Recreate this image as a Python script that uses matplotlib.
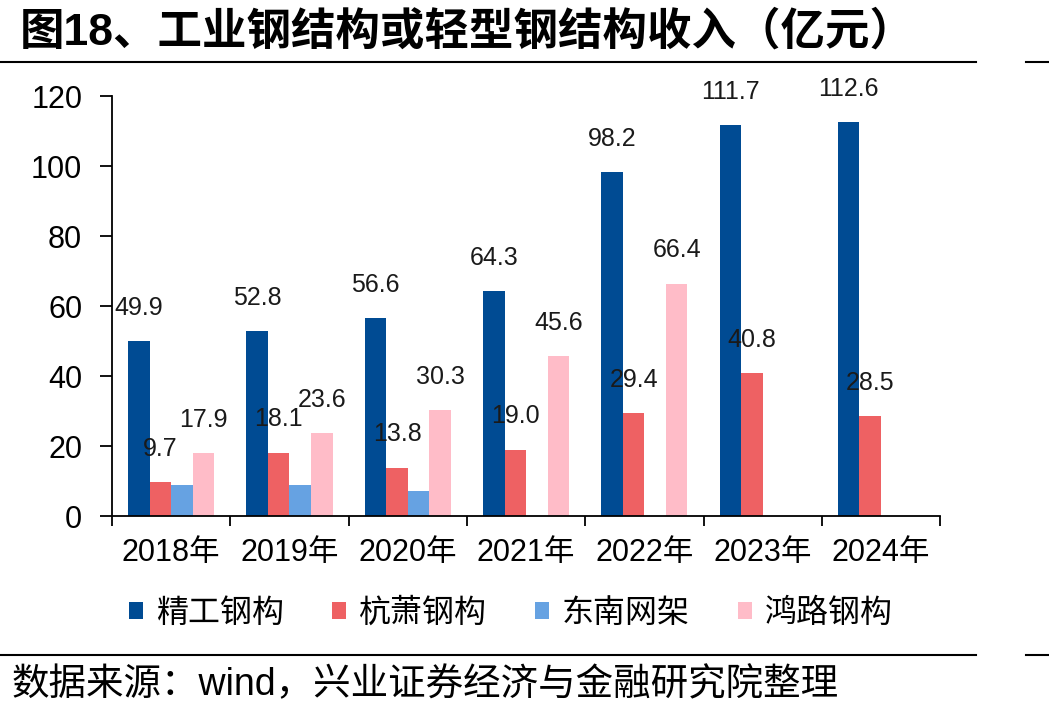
import matplotlib.pyplot as plt
import numpy as np

plt.rcParams["font.family"] = ["Liberation Sans", "Noto Sans CJK SC", "DejaVu Sans"]

years = ["2018年", "2019年", "2020年", "2021年", "2022年", "2023年", "2024年"]
series_names = ["精工钢构", "杭萧钢构", "东南网架", "鸿路钢构"]
jinggong = [49.9, 52.8, 56.6, 64.3, 98.2, 111.7, 112.6]
hangxiao = [9.7, 18.1, 13.8, 19.0, 29.4, 40.8, 28.5]
dongnan = [9.0, 8.8, 7.2, np.nan, np.nan, np.nan, np.nan]
honglu = [17.9, 23.6, 30.3, 45.6, 66.4, np.nan, np.nan]
colors = ["#004B93", "#EE6163", "#66A2E2", "#FFBCC8"]
show_labels = [True, True, False, True]

fig = plt.figure(figsize=(10.49, 7.15), dpi=100)
ax = fig.add_axes([0.1068, 0.2783, 0.7894, 0.5874])

x = np.arange(len(years))
w = 0.182
all_series = [jinggong, hangxiao, dongnan, honglu]
for i, (vals, name, c) in enumerate(zip(all_series, series_names, colors)):
    pos = x + (i - 1.5) * w
    ax.bar(pos, vals, width=w, color=c, label=name, zorder=2)
    if show_labels[i]:
        for px, v in zip(pos, vals):
            if np.isnan(v):
                continue
            ax.annotate(f"{v:.1f}", (px, v), xytext=(0, 19), textcoords="offset points",
                        ha="center", va="baseline", fontsize=18, color="#1a1a1a")

ax.set_xlim(-0.5, len(years) - 0.5)
ax.set_ylim(0, 120)
ax.set_yticks(range(0, 121, 20))
ax.tick_params(axis="y", labelsize=22, length=8.5, width=1.3, direction="out", pad=13)
ax.set_xticks(np.arange(-0.5, len(years), 1.0))
ax.set_xticklabels([])
ax.set_xticks(x, minor=True)
ax.set_xticklabels(years, minor=True, fontsize=22)
ax.tick_params(axis="x", which="major", length=7, width=1.3, direction="out")
ax.tick_params(axis="x", which="minor", length=0, pad=16)
for s in ["top", "right"]:
    ax.spines[s].set_visible(False)
for s in ["left", "bottom"]:
    ax.spines[s].set_linewidth(1.3)

leg = fig.legend(loc="center", bbox_to_anchor=(0.487, 0.142), ncol=4, frameon=False,
                 fontsize=23, handlelength=0.45, handleheight=0.45, handletextpad=0.4,
                 columnspacing=1.5)

fig.text(0.019, 0.955, "图18、工业钢结构或轻型钢结构收入（亿元）", fontsize=32,
         fontweight="bold", va="center", ha="left")
fig.text(0.011, 0.042, "数据来源：wind，兴业证券经济与金融研究院整理", fontsize=27,
         va="center", ha="left")

for yy in [0.913, 0.084]:
    fig.add_artist(plt.Line2D([0, 0.93], [yy, yy], color="black", lw=1.5))
    fig.add_artist(plt.Line2D([0.978, 1.0], [yy, yy], color="black", lw=1.5))

fig.savefig("out.png", dpi=100)
